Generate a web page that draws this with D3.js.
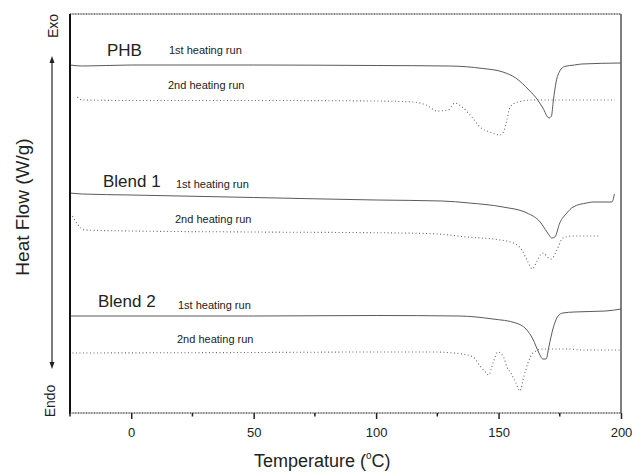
<!DOCTYPE html>
<html><head><meta charset="utf-8">
<script src="https://cdn.jsdelivr.net/npm/d3@7"></script>
<style>body{margin:0;background:#fff}svg{display:block;font-family:"Liberation Sans",Arial,sans-serif}</style>
</head><body>
<svg id="c" width="632" height="472"></svg>
<script>
// Temperature (°C) and relative heat flow (arbitrary units, curves offset vertically)
const phb1T = [-25,-20,0,50,100,130,143.6,151.8,157,162.4,166,168.1,170.6,171.6,172.4,173.5,175,177,181,184,200];
const phb1H = [34.8,34.7,34.8,34.8,34.75,34.7,34.45,34.1,33.5,32.3,31.3,30.5,29.5,29.7,31.3,33.1,34.2,34.65,34.8,34.9,35.0];
const phb2T = [-22,-20,0,50,100,115,120.4,124.9,129.4,132.2,135.1,139.1,142.4,146.5,150.6,152.2,153.4,154.7,157.9,164,197.5];
const phb2H = [31.6,31.3,31.25,31.25,31.2,31.1,30.8,30.2,30.3,31.0,30.6,29.6,28.6,28.1,27.8,28.2,29.3,30.6,31.1,31.3,31.3];
const b1aT = [-25,-20,0,50,100,127,138,151.8,161.6,167,169.8,171.8,173,175,177.9,180.4,186,188.6,196.3,197.3];
const b1aH = [22.0,21.9,21.8,21.55,21.3,21.2,21.0,20.6,20.0,19.1,18.1,17.5,17.6,19.0,20.0,20.6,21.0,21.1,21.1,21.9];
const b1bT = [-24,-22,-19,0,50,110,125,137,150.6,156,159.5,162,163.8,165.5,167,168.3,170,171.6,173.8,176.3,180.4,191.4];
const b1bH = [19.7,18.9,18.3,18.2,18.1,18.0,17.9,17.6,17.3,17.0,16.3,15.1,14.4,15.1,15.8,16.0,15.6,15.4,16.3,17.5,17.7,17.7];
const b2aT = [-25,50,100,133.8,147.7,157.1,161.2,164,166.5,168.1,169.4,170.6,172.2,174.3,176.3,180.8,193.8,200];
const b2aH = [9.7,9.7,9.75,9.7,9.4,9.0,8.4,7.4,6.0,5.4,5.4,6.7,8.4,9.7,10.0,10.1,10.2,10.4];
const b2bT = [-24,50,100,123,133.8,139.6,142.5,145,146,147.7,149.8,152.2,153.4,155,157.1,158.7,160.4,162,164,168.1,178.8,183.5,200];
const b2bH = [6.0,6.05,6.1,6.1,5.95,5.6,4.7,4.0,3.8,5.0,6.1,5.5,4.6,4.0,3.0,2.2,3.7,5.0,6.0,6.4,6.4,6.3,6.3];
const xTicks = [0,50,100,150,200];
const xMinor = [-25,25,75,125,175];
const sampleNames = ["PHB","Blend 1","Blend 2"];
const runNames = ["1st heating run","2nd heating run"];

const svg = d3.select("#c");
const x = d3.scaleLinear().domain([-25,200]).range([70,621]);
const y = d3.scaleLinear().domain([0,39.9]).range([413,14]);
const ink = "#222";

const series = [
  {T:phb1T,H:phb1H,dash:null},{T:phb2T,H:phb2H,dash:"1,2.5"},
  {T:b1aT,H:b1aH,dash:null},{T:b1bT,H:b1bH,dash:"1,2.5"},
  {T:b2aT,H:b2aH,dash:null},{T:b2bT,H:b2bH,dash:"1,2.5"}
];
const line = d3.line().x(d=>x(d[0])).y(d=>y(d[1])).curve(d3.curveMonotoneX);
series.forEach(s=>{
  svg.append("path").datum(s.T.map((t,i)=>[t,s.H[i]]))
    .attr("d",line).attr("fill","none").attr("stroke",s.dash?"#666":"#5a5a5a")
    .attr("stroke-width",s.dash?1.1:1).attr("stroke-dasharray",s.dash);
});

// frame
svg.append("line").attr("x1",70).attr("x2",621).attr("y1",14).attr("y2",14)
  .attr("stroke","#555").attr("stroke-width",1.5).attr("stroke-dasharray","1,0.6");
svg.append("line").attr("x1",621).attr("x2",621).attr("y1",14).attr("y2",413)
  .attr("stroke","#555").attr("stroke-width",1.5);
svg.append("line").attr("x1",70).attr("x2",70).attr("y1",14).attr("y2",414)
  .attr("stroke","#111").attr("stroke-width",2);

// x axis
const gx = svg.append("g").attr("transform","translate(0,413)");
gx.call(d3.axisBottom(x).tickValues(xTicks).tickSize(6).tickPadding(9).tickFormat(d3.format("d")));
gx.select(".domain").attr("stroke","#555").attr("stroke-width",1.5).attr("stroke-dasharray","1,0.6").attr("d","M70,0H621");
gx.selectAll(".tick line").attr("stroke","#222").attr("stroke-width",1.5);
gx.selectAll(".tick text").attr("font-size",13).attr("fill",ink).attr("font-family","Liberation Sans, Arial, sans-serif");
gx.selectAll(".minor").data(xMinor).enter().append("line")
  .attr("x1",d=>x(d)).attr("x2",d=>x(d)).attr("y1",0).attr("y2",3.5)
  .attr("stroke","#222").attr("stroke-width",1.5);

const xl = svg.append("text").attr("x",254).attr("y",467).attr("font-size",18).attr("fill",ink);
xl.append("tspan").text("Temperature (");
xl.append("tspan").text("o").attr("font-size",10).attr("dy",-8);
xl.append("tspan").text("C)").attr("dy",8);

// y axis label and arrows
svg.append("text").attr("transform","translate(29,207) rotate(-90)").attr("text-anchor","middle")
  .attr("font-size",19).attr("fill",ink).text("Heat Flow (W/g)");
svg.append("text").attr("transform","translate(57.5,26) rotate(-90)").attr("text-anchor","middle")
  .attr("font-size",14).attr("fill",ink).text("Exo");
svg.append("text").attr("transform","translate(55,401) rotate(-90)").attr("text-anchor","middle")
  .attr("font-size",14).attr("fill",ink).text("Endo");
svg.append("line").attr("x1",52).attr("x2",52).attr("y1",60).attr("y2",365).attr("stroke","#222").attr("stroke-width",1.2);
svg.append("path").attr("d","M52,56 L49.5,63 L54.5,63 Z").attr("fill","#222");
svg.append("path").attr("d","M52,369 L49.5,362 L54.5,362 Z").attr("fill","#222");

// annotations
const labels = [
  {n:0,x:107,y:56,rx:169,r1:54,r2:89},
  {n:1,x:103,y:187,rx:176,r1:188,r2:223},
  {n:2,x:98,y:307,rx:178,r1:309,r2:343}
];
labels.forEach(l=>{
  svg.append("text").attr("x",l.x).attr("y",l.y).attr("font-size",17).attr("fill",ink).text(sampleNames[l.n]);
  svg.append("text").attr("x",l.rx).attr("y",l.r1).attr("font-size",11).attr("fill",ink).text(runNames[0]);
  svg.append("text").attr("x",l.rx-1).attr("y",l.r2).attr("font-size",11).attr("fill",ink).text(runNames[1]);
});
</script>
</body></html>
